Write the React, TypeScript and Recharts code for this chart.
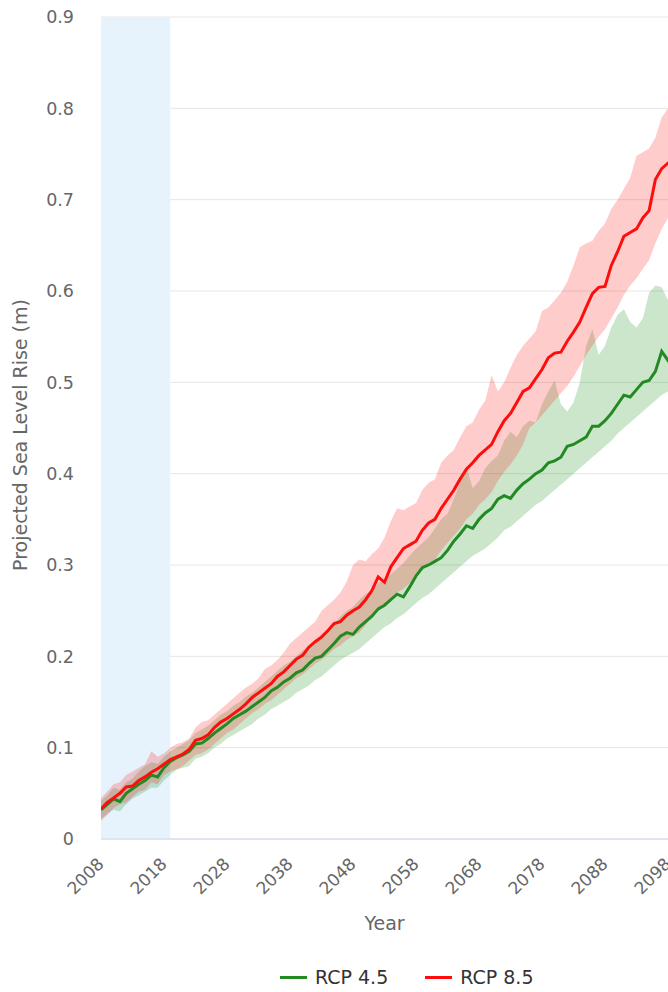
import {
  ComposedChart,
  Area,
  Line,
  XAxis,
  YAxis,
  CartesianGrid,
  ReferenceArea,
  Label,
} from "recharts";

// yearly projections, metres above the 2000 baseline
const years = [
  2008, 2009, 2010, 2011, 2012, 2013, 2014, 2015, 2016, 2017,
  2018, 2019, 2020, 2021, 2022, 2023, 2024, 2025, 2026, 2027,
  2028, 2029, 2030, 2031, 2032, 2033, 2034, 2035, 2036, 2037,
  2038, 2039, 2040, 2041, 2042, 2043, 2044, 2045, 2046, 2047,
  2048, 2049, 2050, 2051, 2052, 2053, 2054, 2055, 2056, 2057,
  2058, 2059, 2060, 2061, 2062, 2063, 2064, 2065, 2066, 2067,
  2068, 2069, 2070, 2071, 2072, 2073, 2074, 2075, 2076, 2077,
  2078, 2079, 2080, 2081, 2082, 2083, 2084, 2085, 2086, 2087,
  2088, 2089, 2090, 2091, 2092, 2093, 2094, 2095, 2096, 2097,
  2098, 2099, 2100,
];

const rcp45 = [
  0.032, 0.038, 0.044, 0.041, 0.05, 0.055, 0.06, 0.064, 0.07, 0.068,
  0.078, 0.085, 0.089, 0.092, 0.096, 0.104, 0.105, 0.11, 0.116, 0.121,
  0.126, 0.132, 0.136, 0.14, 0.145, 0.15, 0.155, 0.162, 0.166, 0.172,
  0.176, 0.182, 0.185, 0.192, 0.198, 0.2, 0.207, 0.214, 0.222, 0.226,
  0.224, 0.232, 0.238, 0.244, 0.252, 0.256, 0.262, 0.268, 0.265, 0.276,
  0.288, 0.297, 0.3, 0.304, 0.308, 0.316, 0.326, 0.334, 0.343, 0.34,
  0.35, 0.357, 0.362, 0.372, 0.376, 0.373, 0.382, 0.389, 0.394, 0.4,
  0.404, 0.412, 0.414, 0.418, 0.43, 0.432, 0.436, 0.44, 0.452, 0.452,
  0.458, 0.466, 0.476, 0.486, 0.484, 0.492, 0.5, 0.502, 0.512, 0.534,
  0.524, 0.53, 0.536,
];

const rcp45Low = [
  0.022, 0.028, 0.032, 0.03, 0.038, 0.044, 0.048, 0.052, 0.056, 0.056,
  0.064, 0.07, 0.076, 0.078, 0.08, 0.088, 0.09, 0.094, 0.1, 0.104,
  0.11, 0.114, 0.118, 0.122, 0.126, 0.132, 0.136, 0.142, 0.146, 0.15,
  0.154, 0.16, 0.164, 0.168, 0.174, 0.178, 0.184, 0.19, 0.196, 0.2,
  0.204, 0.208, 0.214, 0.22, 0.226, 0.232, 0.236, 0.242, 0.246, 0.252,
  0.258, 0.264, 0.268, 0.274, 0.28, 0.286, 0.292, 0.298, 0.304, 0.31,
  0.314, 0.318, 0.324, 0.33, 0.338, 0.342, 0.348, 0.354, 0.36, 0.366,
  0.37, 0.376, 0.382, 0.388, 0.394, 0.4, 0.406, 0.412, 0.418, 0.424,
  0.43, 0.436, 0.444, 0.45, 0.456, 0.462, 0.468, 0.474, 0.48, 0.486,
  0.49, 0.494, 0.498,
];

const rcp45High = [
  0.042, 0.048, 0.056, 0.054, 0.062, 0.066, 0.074, 0.08, 0.084, 0.082,
  0.09, 0.096, 0.1, 0.104, 0.108, 0.116, 0.12, 0.124, 0.13, 0.136,
  0.14, 0.146, 0.15, 0.156, 0.16, 0.166, 0.172, 0.178, 0.184, 0.19,
  0.194, 0.2, 0.206, 0.212, 0.218, 0.224, 0.23, 0.236, 0.244, 0.25,
  0.254, 0.262, 0.268, 0.272, 0.28, 0.284, 0.29, 0.296, 0.302, 0.31,
  0.318, 0.324, 0.33, 0.34, 0.35, 0.356, 0.372, 0.39, 0.408, 0.384,
  0.392, 0.406, 0.414, 0.42, 0.436, 0.446, 0.44, 0.452, 0.458, 0.456,
  0.476, 0.49, 0.502, 0.476, 0.468, 0.478, 0.5, 0.54, 0.558, 0.53,
  0.54, 0.56, 0.574, 0.58, 0.566, 0.56, 0.57, 0.598, 0.606, 0.604,
  0.59, 0.594, 0.6,
];

const rcp85 = [
  0.033, 0.04, 0.045, 0.05, 0.057, 0.058, 0.064, 0.068, 0.073, 0.077,
  0.082, 0.087, 0.09, 0.093, 0.098, 0.108, 0.11, 0.114, 0.122, 0.128,
  0.132, 0.137, 0.142, 0.148, 0.155, 0.16, 0.165, 0.17, 0.178, 0.183,
  0.19, 0.197, 0.201, 0.21, 0.216, 0.221, 0.228, 0.236, 0.238, 0.245,
  0.25, 0.254, 0.262, 0.272, 0.287, 0.281, 0.298, 0.308, 0.318, 0.322,
  0.326, 0.338, 0.346, 0.35, 0.362, 0.372, 0.382, 0.394, 0.405, 0.412,
  0.42, 0.426, 0.432, 0.446, 0.458, 0.466, 0.478, 0.49, 0.494, 0.504,
  0.514, 0.527, 0.532, 0.533, 0.545, 0.555, 0.566, 0.582, 0.597, 0.604,
  0.605, 0.628, 0.643, 0.66, 0.664, 0.668, 0.68, 0.688, 0.722, 0.734,
  0.74, 0.746, 0.752,
];

const rcp85Low = [
  0.02, 0.026, 0.034, 0.038, 0.04, 0.046, 0.052, 0.054, 0.062, 0.06,
  0.07, 0.074, 0.076, 0.08, 0.086, 0.092, 0.094, 0.098, 0.104, 0.11,
  0.116, 0.12, 0.126, 0.132, 0.138, 0.142, 0.148, 0.152, 0.158, 0.164,
  0.17, 0.176, 0.18, 0.186, 0.192, 0.196, 0.202, 0.208, 0.212, 0.218,
  0.222, 0.226, 0.234, 0.244, 0.25, 0.254, 0.262, 0.27, 0.274, 0.28,
  0.286, 0.296, 0.302, 0.306, 0.316, 0.324, 0.332, 0.34, 0.35, 0.356,
  0.366, 0.372, 0.38, 0.392, 0.402, 0.41, 0.42, 0.432, 0.45, 0.456,
  0.464, 0.472, 0.48, 0.488, 0.496, 0.506, 0.518, 0.53, 0.54, 0.55,
  0.558, 0.57, 0.582, 0.596, 0.606, 0.614, 0.624, 0.634, 0.652, 0.668,
  0.68, 0.686, 0.692,
];

const rcp85High = [
  0.045, 0.052, 0.06, 0.062, 0.07, 0.074, 0.078, 0.082, 0.096, 0.09,
  0.094, 0.1, 0.104, 0.106, 0.11, 0.122, 0.128, 0.13, 0.136, 0.142,
  0.148, 0.154, 0.16, 0.166, 0.17, 0.176, 0.186, 0.19, 0.196, 0.204,
  0.214, 0.22, 0.226, 0.232, 0.238, 0.25, 0.256, 0.262, 0.27, 0.282,
  0.3, 0.306, 0.304, 0.312, 0.318, 0.33, 0.348, 0.362, 0.36, 0.364,
  0.368, 0.382, 0.39, 0.394, 0.412, 0.42, 0.426, 0.44, 0.452, 0.456,
  0.47, 0.48, 0.508, 0.49, 0.5, 0.516, 0.53, 0.54, 0.548, 0.556,
  0.578, 0.582, 0.59, 0.598, 0.61, 0.628, 0.648, 0.652, 0.655, 0.666,
  0.674, 0.69, 0.7, 0.712, 0.724, 0.748, 0.752, 0.756, 0.768, 0.79,
  0.8, 0.806, 0.812,
];

const xTicks = [2008, 2018, 2028, 2038, 2048, 2058, 2068, 2078, 2088, 2098];
const yTicks = [0, 0.1, 0.2, 0.3, 0.4, 0.5, 0.6, 0.7, 0.8, 0.9];
const observedPeriod = [2008, 2019];

const seriesNames = ["RCP 4.5", "RCP 8.5"];
const seriesColors = ["#238a23", "#ff0d0d"];

const data = years.map((year, i) => ({
  year,
  rcp45: rcp45[i],
  rcp45Range: [rcp45Low[i], rcp45High[i]],
  rcp85: rcp85[i],
  rcp85Range: [rcp85Low[i], rcp85High[i]],
}));

const FONT = "'DejaVu Sans', sans-serif";

function YearTick(props: any) {
  const { x, y, payload } = props;
  const px = x + 4;
  const py = y + 26;
  return (
    <text
      x={px}
      y={py}
      transform={`rotate(-45 ${px} ${py})`}
      textAnchor="end"
      fontSize={17}
      fontFamily={FONT}
      fill="#666"
    >
      {payload.value}
    </text>
  );
}

function LegendRow() {
  return (
    <div
      style={{
        position: "absolute",
        left: 280,
        top: 966,
        display: "flex",
        alignItems: "center",
        fontFamily: FONT,
        fontSize: 19,
        color: "#333",
      }}
    >
      {seriesNames.map((name, i) => (
        <div
          key={name}
          style={{ display: "flex", alignItems: "center", marginRight: 37 }}
        >
          <span
            style={{
              display: "inline-block",
              width: 27,
              height: 3,
              background: seriesColors[i],
              marginRight: 8,
            }}
          />
          <span>{name}</span>
        </div>
      ))}
    </div>
  );
}

export default function App() {
  return (
    <div
      style={{
        position: "fixed",
        left: 0,
        top: 0,
        width: 668,
        height: 992,
        background: "#fff",
      }}
    >
      <ComposedChart
        width={668}
        height={992}
        data={data}
        margin={{ top: 17, right: 0, bottom: 53, left: 0 }}
      >
        <ReferenceArea
          x1={observedPeriod[0]}
          x2={observedPeriod[1]}
          fill="#e6f3fd"
          fillOpacity={1}
          stroke="none"
        />
        <CartesianGrid vertical={false} stroke="#e6e6e6" />
        <XAxis
          dataKey="year"
          type="number"
          domain={[2008, 2098]}
          allowDataOverflow
          ticks={xTicks}
          interval={0}
          height={100}
          tickSize={0}
          tickMargin={0}
          tick={<YearTick />}
          stroke="#ccd6eb"
        >
          <Label
            value="Year"
            position="insideTop"
            offset={78}
            style={{ fontSize: 19, fontFamily: FONT, fill: "#666" }}
          />
        </XAxis>
        <YAxis
          type="number"
          domain={[0, 0.9]}
          ticks={yTicks}
          width={101}
          axisLine={false}
          tickLine={false}
          tickSize={0}
          tickMargin={27}
          tick={{ fontSize: 17.5, fontFamily: FONT, fill: "#666" }}
          tickFormatter={(v: number) => (v === 0 ? "0" : v.toFixed(1))}
          allowDataOverflow
        >
          <Label
            content={(p: any) => {
              const vb = p.viewBox;
              const cx = vb.x + 20;
              const cy = vb.y + vb.height / 2 + 7;
              return (
                <text
                  x={cx}
                  y={cy}
                  transform={`rotate(-90 ${cx} ${cy})`}
                  textAnchor="middle"
                  dominantBaseline="central"
                  fontSize={19}
                  fontFamily={FONT}
                  fill="#666"
                >
                  Projected Sea Level Rise (m)
                </text>
              );
            }}
          />
        </YAxis>
        <Area
          type="linear"
          dataKey="rcp45Range"
          stroke="none"
          fill="#008000"
          fillOpacity={0.2}
          isAnimationActive={false}
        />
        <Area
          type="linear"
          dataKey="rcp85Range"
          stroke="none"
          fill="#ff0000"
          fillOpacity={0.2}
          isAnimationActive={false}
        />
        <Line
          type="linear"
          dataKey="rcp45"
          name={seriesNames[0]}
          stroke={seriesColors[0]}
          strokeWidth={3}
          dot={false}
          isAnimationActive={false}
        />
        <Line
          type="linear"
          dataKey="rcp85"
          name={seriesNames[1]}
          stroke={seriesColors[1]}
          strokeWidth={3}
          dot={false}
          isAnimationActive={false}
        />
      </ComposedChart>
      <LegendRow />
    </div>
  );
}
